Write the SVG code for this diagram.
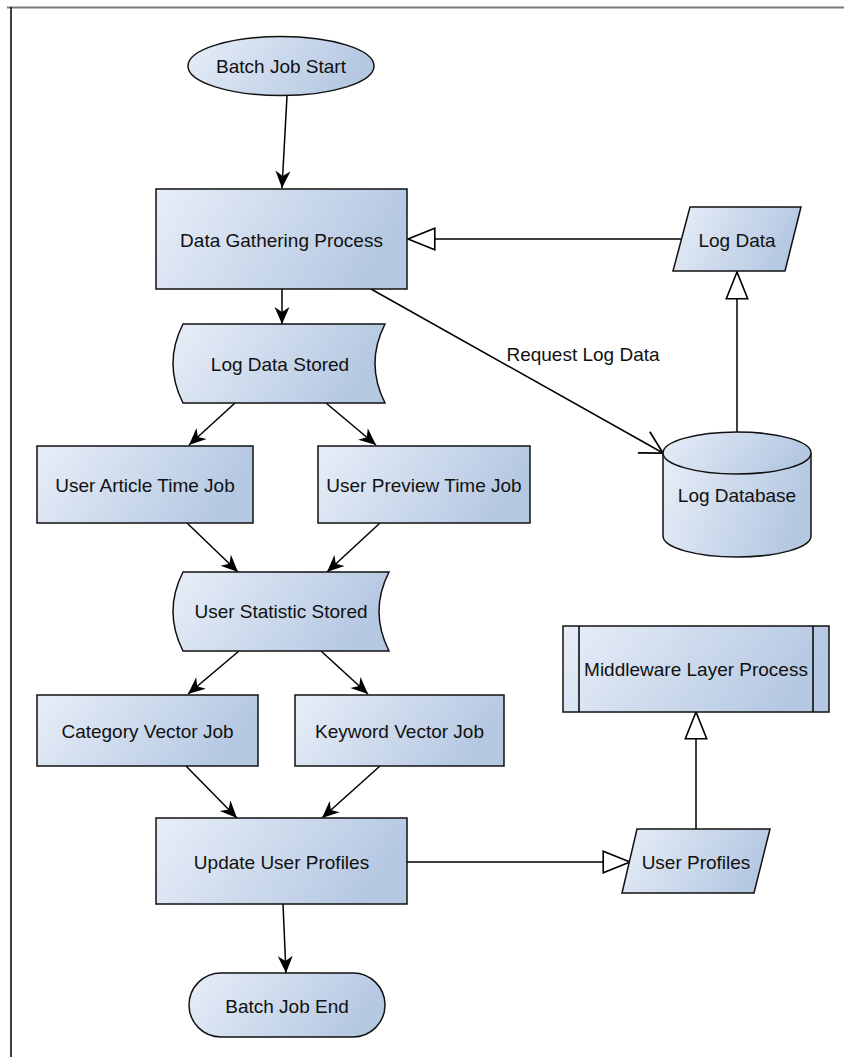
<svg xmlns="http://www.w3.org/2000/svg" width="844" height="1057" viewBox="0 0 844 1057">
  <defs>
    <linearGradient id="fillGrad" x1="0" y1="0" x2="1" y2="0.25">
      <stop offset="0" stop-color="#e8eef8"/>
      <stop offset="1" stop-color="#b5c8e2"/>
    </linearGradient>
    <!-- solid barbed head for flow arrows -->
    <marker id="solid" markerUnits="userSpaceOnUse" markerWidth="20" markerHeight="20" viewBox="-18 -9 20 18" refX="0" refY="0" orient="auto" overflow="visible">
      <path d="M0,0 L-17,-7.5 L-12,0 L-17,7.5 Z" fill="#000"/>
    </marker>
    <!-- hollow triangle for data arrows -->
    <marker id="hollow" markerUnits="userSpaceOnUse" markerWidth="30" markerHeight="30" viewBox="-26 -13 28 26" refX="0" refY="0" orient="auto" overflow="visible">
      <path d="M0,0 L-25,-10 L-25,10 Z" fill="#fff" stroke="#000" stroke-width="1.5" stroke-linejoin="miter"/>
    </marker>
    <!-- open V head -->
    <marker id="open" markerUnits="userSpaceOnUse" markerWidth="30" markerHeight="30" viewBox="-24 -12 26 24" refX="0" refY="0" orient="auto" overflow="visible">
      <path d="M-19,-10.5 L0,0 L-19,10.5" fill="none" stroke="#000" stroke-width="1.5"/>
    </marker>
  </defs>
  <style>
    .shape { fill: url(#fillGrad); stroke: #111; stroke-width: 1.5; }
    .line { fill: none; stroke: #000; stroke-width: 1.5; }
    .lbl { font-family: "Liberation Sans", Arial, sans-serif; font-size: 19px; fill: #111; text-anchor: middle; dominant-baseline: central; }
  </style>

  <!-- page frame -->
  <g id="frame">
    <line x1="7" y1="7.5" x2="844" y2="7.5" stroke="#7a7a7a" stroke-width="2"/>
    <line x1="11" y1="7" x2="11" y2="1057" stroke="#000" stroke-width="1.5"/>
  </g>

  <!-- connectors -->
  <g id="connectors">
    <line class="line" x1="287" y1="96" x2="282" y2="188" marker-end="url(#solid)"/>
    <line class="line" x1="681" y1="239" x2="408" y2="239" marker-end="url(#hollow)"/>
    <line class="line" x1="737" y1="432" x2="737" y2="272" marker-end="url(#hollow)"/>
    <line class="line" x1="371" y1="289" x2="663" y2="453" marker-end="url(#open)"/>
    <line class="line" x1="282" y1="289" x2="282" y2="324" marker-end="url(#solid)"/>
    <line class="line" x1="235" y1="403" x2="189" y2="445" marker-end="url(#solid)"/>
    <line class="line" x1="326" y1="403" x2="376" y2="445" marker-end="url(#solid)"/>
    <line class="line" x1="187" y1="523" x2="238" y2="572" marker-end="url(#solid)"/>
    <line class="line" x1="380" y1="523" x2="327" y2="572" marker-end="url(#solid)"/>
    <line class="line" x1="239" y1="651" x2="188" y2="694" marker-end="url(#solid)"/>
    <line class="line" x1="321" y1="651" x2="368" y2="694" marker-end="url(#solid)"/>
    <line class="line" x1="186" y1="766" x2="237" y2="818" marker-end="url(#solid)"/>
    <line class="line" x1="380" y1="766" x2="322" y2="818" marker-end="url(#solid)"/>
    <line class="line" x1="283" y1="904" x2="286" y2="973" marker-end="url(#solid)"/>
    <line class="line" x1="407" y1="862" x2="630" y2="862" marker-end="url(#hollow)"/>
    <line class="line" x1="696" y1="829" x2="696" y2="712" marker-end="url(#hollow)"/>
    <text class="lbl" x="583" y="354">Request Log Data</text>
  </g>

  <g id="batch-start">
    <ellipse class="shape" cx="281" cy="66" rx="93" ry="29.5"/>
    <text class="lbl" x="281" y="66">Batch Job Start</text>
  </g>

  <g id="data-gathering">
    <rect class="shape" x="156" y="189" width="251" height="100"/>
    <text class="lbl" x="281.5" y="240">Data Gathering Process</text>
  </g>

  <g id="log-data">
    <path class="shape" d="M690,207 L801,207 L785,271 L673,271 Z"/>
    <text class="lbl" x="737" y="240">Log Data</text>
  </g>

  <g id="log-database">
    <path class="shape" d="M663,453 L663,536 A74,21 0 0 0 811,536 L811,453"/>
    <ellipse class="shape" cx="737" cy="453" rx="74" ry="21"/>
    <text class="lbl" x="737" y="495">Log Database</text>
  </g>

  <g id="log-data-stored">
    <path class="shape" d="M183,324 L385,324 Q365,363.5 385,403 L183,403 Q163,363.5 183,324 Z"/>
    <text class="lbl" x="280" y="364">Log Data Stored</text>
  </g>

  <g id="article-time-job">
    <rect class="shape" x="37" y="446" width="216" height="77"/>
    <text class="lbl" x="145" y="485">User Article Time Job</text>
  </g>

  <g id="preview-time-job">
    <rect class="shape" x="318" y="446" width="212" height="77"/>
    <text class="lbl" x="424" y="485">User Preview Time Job</text>
  </g>

  <g id="user-statistic-stored">
    <path class="shape" d="M183,572 L389,572 Q369,611.5 389,651 L183,651 Q163,611.5 183,572 Z"/>
    <text class="lbl" x="281" y="611">User Statistic Stored</text>
  </g>

  <g id="category-vector-job">
    <rect class="shape" x="37" y="695" width="221" height="71"/>
    <text class="lbl" x="147.5" y="731">Category Vector Job</text>
  </g>

  <g id="keyword-vector-job">
    <rect class="shape" x="295" y="695" width="209" height="71"/>
    <text class="lbl" x="399.5" y="731">Keyword Vector Job</text>
  </g>

  <g id="update-user-profiles">
    <rect class="shape" x="156" y="818" width="251" height="86"/>
    <text class="lbl" x="281.5" y="862">Update User Profiles</text>
  </g>

  <g id="batch-end">
    <rect class="shape" x="189" y="973" width="196" height="64" rx="32" ry="32"/>
    <text class="lbl" x="287" y="1006">Batch Job End</text>
  </g>

  <g id="user-profiles">
    <path class="shape" d="M637,829 L770,829 L754,893 L622,893 Z"/>
    <text class="lbl" x="696" y="862">User Profiles</text>
  </g>

  <g id="middleware">
    <rect class="shape" x="563" y="626" width="266" height="86"/>
    <line class="line" x1="579" y1="626" x2="579" y2="712"/>
    <line class="line" x1="813" y1="626" x2="813" y2="712"/>
    <text class="lbl" x="696" y="669">Middleware Layer Process</text>
  </g>
</svg>
